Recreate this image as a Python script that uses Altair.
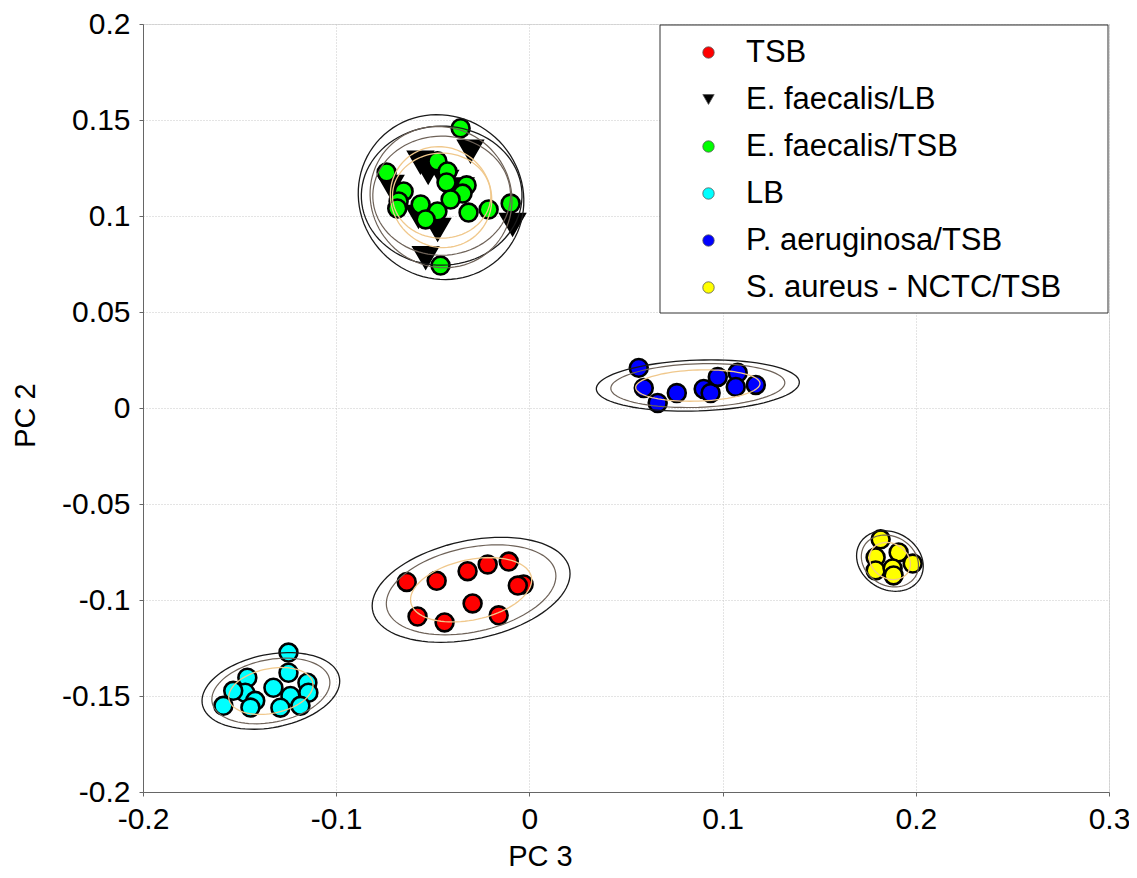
import altair as alt
import numpy as np
import pandas as pd

# ---- data ----
groups = ["TSB", "E. faecalis/LB", "E. faecalis/TSB", "LB",
          "P. aeruginosa/TSB", "S. aureus - NCTC/TSB"]
colors = ["#ff0000", "#000000", "#00ff00", "#00ffff", "#0000ff", "#ffff00"]
shapes = ["circle", "triangle-down", "circle", "circle", "circle", "circle"]

tsb_x = [-0.0635, -0.048, -0.032, -0.0216, -0.0107, -0.003, -0.006, -0.0294, -0.0579, -0.0439, -0.0159]
tsb_y = [-0.0906, -0.0900, -0.0850, -0.0815, -0.0800, -0.0919, -0.0925, -0.1018, -0.1086, -0.1117, -0.1080]

efl_x = [-0.0305, -0.0564, -0.0524, -0.0718, -0.0475, -0.0087, -0.0537, -0.0355, -0.0574, -0.0435]
efl_y = [0.1337, 0.1280, 0.1227, 0.1154, 0.0930, 0.0956, 0.0783, 0.1140, 0.0997, 0.1180]

eft_x = [-0.0356, -0.0739, -0.0476, -0.0424, -0.0429, -0.0325, -0.0346, -0.0651, -0.0677,
         -0.0684, -0.0563, -0.0476, -0.0408, -0.0315, -0.0211, -0.0097, -0.0537, -0.0460]
eft_y = [0.1457, 0.1227, 0.1285, 0.1232, 0.1175, 0.1160, 0.1117, 0.1128, 0.1076,
         0.1039, 0.1060, 0.1024, 0.1086, 0.1018, 0.1034, 0.1065, 0.0982, 0.0742]

lb_x = [-0.1247, -0.1247, -0.1460, -0.1325, -0.1149, -0.1144, -0.1471, -0.1533, -0.1419,
        -0.1237, -0.1584, -0.1289, -0.1185, -0.1444]
lb_y = [-0.1274, -0.1379, -0.1405, -0.1457, -0.1431, -0.1483, -0.1483, -0.1473, -0.1525,
        -0.1500, -0.1551, -0.1561, -0.1551, -0.1560]

pa_x = [0.0566, 0.0592, 0.0664, 0.0763, 0.0902, 0.0938, 0.0975, 0.1078, 0.1068, 0.1172]
pa_y = [0.0209, 0.0104, 0.0026, 0.0078, 0.0099, 0.0078, 0.0162, 0.0183, 0.0110, 0.0120]

sa_x = [0.1818, 0.1911, 0.1984, 0.1792, 0.1792, 0.1880, 0.1885]
sa_y = [-0.0684, -0.0752, -0.0810, -0.0778, -0.0846, -0.0836, -0.0872]

x_ticks = [-0.2, -0.1, 0, 0.1, 0.2, 0.3]
y_ticks = [-0.2, -0.15, -0.1, -0.05, 0, 0.05, 0.1, 0.15, 0.2]

series = [(tsb_x, tsb_y), (efl_x, efl_y), (eft_x, eft_y), (lb_x, lb_y), (pa_x, pa_y), (sa_x, sa_y)]

rows = []
for g, (xs, ys) in zip(groups, series):
    for xv, yv in zip(xs, ys):
        rows.append({"group": g, "x": xv, "y": yv})
points = pd.DataFrame(rows)
tri_pts = points[points["group"] == "E. faecalis/LB"]
circ_pts = points[points["group"] != "E. faecalis/LB"]

# covariance (confidence) ellipses derived from each group's points
levels = [("outer", 2.45), ("middle", 2.1), ("inner", 1.5)]
t = np.linspace(0, 2 * np.pi, 91)
erows = []
for g, (xs, ys) in zip(groups, series):
    pts = np.vstack([xs, ys])
    m = pts.mean(axis=1)
    cov = np.cov(pts)
    vals, vecs = np.linalg.eigh(cov)
    circ = np.vstack([np.cos(t), np.sin(t)])
    for lev, k in levels:
        e = m[:, None] + k * (vecs @ np.diag(np.sqrt(vals)) @ circ)
        for i in range(len(t)):
            erows.append({"group": g, "level": lev, "i": i, "x": e[0, i], "y": e[1, i]})
ell = pd.DataFrame(erows)

FONT = "Liberation Sans"

xscale = alt.Scale(domain=[-0.2, 0.3], nice=False, zero=False)
yscale = alt.Scale(domain=[-0.2, 0.2], nice=False, zero=False)

xaxis = alt.Axis(values=x_ticks, title="PC 3", labelExpr="'' + datum.value",
                 grid=True, gridColor="#c8c8c8", gridDash=[1, 2], gridWidth=1,
                 domainColor="#666666", tickColor="#666666", tickSize=4,
                 labelFont=FONT, labelFontSize=30, labelColor="black", labelPadding=8,
                 titleFont=FONT, titleFontSize=29, titleFontWeight="normal", titleColor="black",
                 titleX=397, titleY=64, titleBaseline="middle", titleAlign="center",
                 labelFlush=False)
yaxis = alt.Axis(values=y_ticks, title="PC 2", labelExpr="'' + datum.value",
                 grid=True, gridColor="#c8c8c8", gridDash=[1, 2], gridWidth=1,
                 domainColor="#666666", tickColor="#666666", tickSize=4,
                 labelFont=FONT, labelFontSize=30, labelColor="black", labelPadding=9,
                 titleFont=FONT, titleFontSize=29, titleFontWeight="normal", titleColor="black",
                 titleX=-118, titleY=391, titleBaseline="middle", titleAlign="center",
                 titleAngle=-90, labelFlush=False)

legend = alt.Legend(title=None, orient="none", legendX=550, legendY=13,
                    padding=0, symbolOffset=0, labelOffset=22, symbolSize=130,
                    symbolStrokeColor="#555555", symbolStrokeWidth=0.8,
                    labelFont=FONT, labelFontSize=31, labelColor="black",
                    rowPadding=15, labelLimit=600)

color_enc = alt.Color("group:N", scale=alt.Scale(domain=groups, range=colors), legend=legend)
shape_enc = alt.Shape("group:N", scale=alt.Scale(domain=groups, range=shapes), legend=legend)

# legend frame (decoration, placed in pixels of the plot area)
frame = alt.Chart(pd.DataFrame({"k": [0]})).mark_rect(
    fill="white", stroke="#333333", strokeWidth=1).encode(
    x=alt.value(517), x2=alt.value(965), y=alt.value(1), y2=alt.value(289))

tri_layer = alt.Chart(tri_pts).mark_point(filled=True, size=620, stroke="black",
                                          strokeWidth=2, opacity=1).encode(
    x=alt.X("x:Q", scale=xscale, axis=xaxis),
    y=alt.Y("y:Q", scale=yscale, axis=yaxis),
    color=color_enc, shape=shape_enc,
)
circ_layer = alt.Chart(circ_pts).mark_point(filled=True, size=320, stroke="black",
                                            strokeWidth=2.6, opacity=1).encode(
    x=alt.X("x:Q", scale=xscale),
    y=alt.Y("y:Q", scale=yscale),
    color=color_enc, shape=shape_enc,
)

line_colors = {"outer": ("#1a1a1a", 1.3), "middle": ("#6e6258", 1.2), "inner": ("#f0c88c", 1.3)}
line_layers = []
for lev, (c, w) in line_colors.items():
    line_layers.append(
        alt.Chart(ell[ell["level"] == lev]).mark_line(color=c, strokeWidth=w).encode(
            x=alt.X("x:Q", scale=xscale),
            y=alt.Y("y:Q", scale=yscale),
            detail="group:N",
            order="i:Q",
        )
    )

chart = alt.layer(frame, tri_layer, circ_layer, *line_layers).properties(
    width=966, height=768,
    autosize=alt.AutoSizeParams(type="none"),
    padding={"left": 135, "top": 16, "right": 20, "bottom": 78},
).configure_view(stroke=None).configure(background="white")

chart.save("out.html", embed_options={"renderer": "svg", "actions": False})
